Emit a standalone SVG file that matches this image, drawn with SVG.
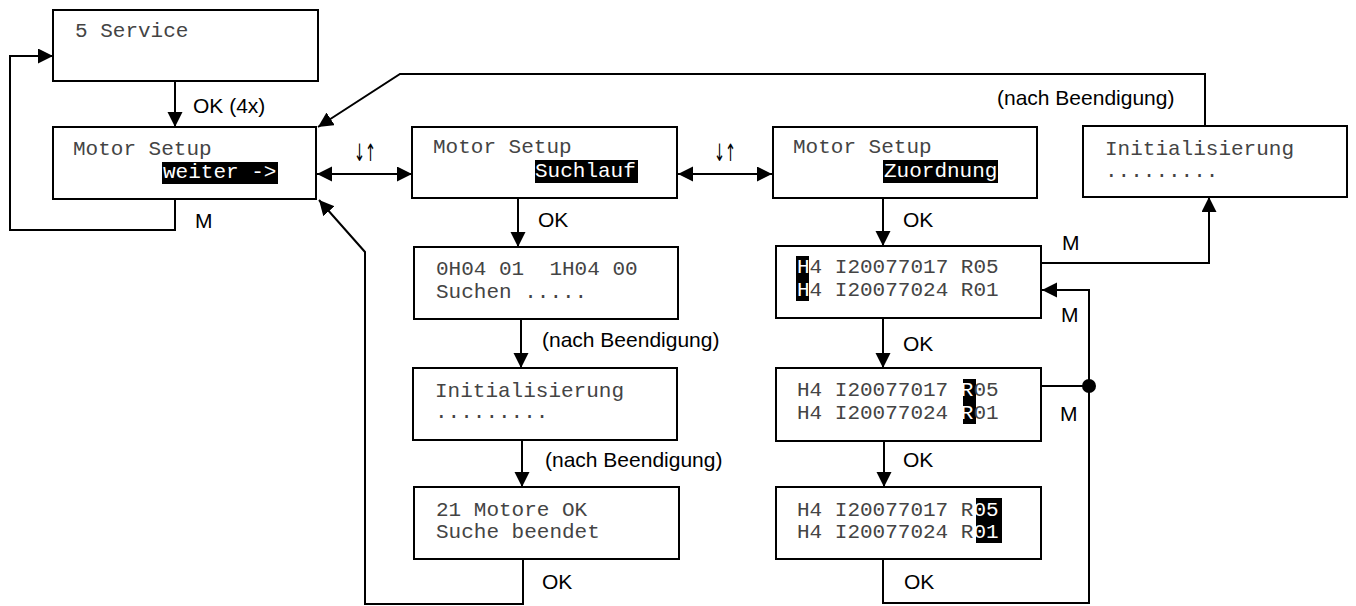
<svg xmlns="http://www.w3.org/2000/svg" width="1356" height="606" viewBox="0 0 1356 606">
  <style>
    .box { fill: #fff; stroke: #000; stroke-width: 2; }
    .lcd { font-family: "Liberation Mono", "Courier New", monospace; font-size: 21px; fill: #444; }
    .inv { fill: #fff; }
    .hl { fill: #000; }
    .lbl { font-family: "Liberation Sans", Arial, sans-serif; font-size: 21px; fill: #000; }
    .sym { font-family: "DejaVu Sans", sans-serif; font-size: 24px; fill: #000; }
    .wire { fill: none; stroke: #000; stroke-width: 2; }
  </style>
  <defs>
    <marker id="head" markerUnits="userSpaceOnUse" markerWidth="16" markerHeight="16" refX="15" refY="7.5" orient="auto-start-reverse">
      <path d="M0,0 L15,7.5 L0,15 z" fill="#000"/>
    </marker>
  </defs>
  <rect width="1356" height="606" fill="#fff"/>

  <!-- connectors -->
  <g id="connectors">
    <line class="wire" x1="175" y1="81" x2="175" y2="127" marker-end="url(#head)"/>
    <polyline class="wire" points="175,199 175,230 10,230 10,56 53,56" marker-end="url(#head)"/>
    <polyline class="wire" points="1205,126 1205,74 400,74 318,127" marker-end="url(#head)"/>
    <line class="wire" x1="317" y1="174" x2="412" y2="174" marker-start="url(#head)" marker-end="url(#head)"/>
    <line class="wire" x1="678" y1="174" x2="772" y2="174" marker-start="url(#head)" marker-end="url(#head)"/>
    <line class="wire" x1="518" y1="198" x2="518" y2="247" marker-end="url(#head)"/>
    <line class="wire" x1="521" y1="319" x2="521" y2="368" marker-end="url(#head)"/>
    <line class="wire" x1="522" y1="440" x2="522" y2="487" marker-end="url(#head)"/>
    <polyline class="wire" points="523,559 523,604 365,604 365,252 319,200" marker-end="url(#head)"/>
    <line class="wire" x1="883" y1="198" x2="883" y2="246" marker-end="url(#head)"/>
    <polyline class="wire" points="1041,263 1209,263 1209,197" marker-end="url(#head)"/>
    <line class="wire" x1="883" y1="318" x2="883" y2="368" marker-end="url(#head)"/>
    <line class="wire" x1="884" y1="441" x2="884" y2="487" marker-end="url(#head)"/>
    <polyline class="wire" points="883,559 883,603 1089,603 1089,290 1042,290" marker-end="url(#head)"/>
    <line class="wire" x1="1041" y1="386" x2="1089" y2="386"/>
    <circle cx="1089" cy="386" r="7" fill="#000"/>
  </g>

  <!-- connector labels -->
  <g id="labels">
    <text class="lbl" x="193" y="113">OK (4x)</text>
    <text class="lbl" x="195" y="228">M</text>
    <text class="lbl" x="997" y="105">(nach Beendigung)</text>
    <text class="sym" x="354" y="161" textLength="22" lengthAdjust="spacingAndGlyphs">↓↑</text>
    <text class="sym" x="714" y="161" textLength="22" lengthAdjust="spacingAndGlyphs">↓↑</text>
    <text class="lbl" x="538" y="227">OK</text>
    <text class="lbl" x="542" y="347">(nach Beendigung)</text>
    <text class="lbl" x="545" y="467">(nach Beendigung)</text>
    <text class="lbl" x="542" y="589">OK</text>
    <text class="lbl" x="903" y="227">OK</text>
    <text class="lbl" x="1062" y="250">M</text>
    <text class="lbl" x="1061" y="322">M</text>
    <text class="lbl" x="903" y="351">OK</text>
    <text class="lbl" x="1060" y="421">M</text>
    <text class="lbl" x="903" y="467">OK</text>
    <text class="lbl" x="904" y="589">OK</text>
  </g>

  <g id="service">
    <rect class="box" x="53" y="10" width="265" height="71"/>
    <text class="lcd" x="75" y="37">5 Service</text>
  </g>

  <g id="setup-weiter">
    <rect class="box" x="53" y="127" width="263" height="72"/>
    <text class="lcd" x="73" y="155">Motor Setup</text>
    <rect class="hl" x="162" y="162" width="116" height="22"/>
    <text class="lcd inv" x="163" y="178">weiter -&gt;</text>
  </g>

  <g id="setup-suchlauf">
    <rect class="box" x="412" y="127" width="265" height="71"/>
    <text class="lcd" x="433" y="153">Motor Setup</text>
    <rect class="hl" x="535" y="160" width="103" height="23"/>
    <text class="lcd inv" x="535" y="177">Suchlauf</text>
  </g>

  <g id="setup-zuordnung">
    <rect class="box" x="773" y="127" width="264" height="71"/>
    <text class="lcd" x="793" y="153">Motor Setup</text>
    <rect class="hl" x="883" y="160" width="115" height="23"/>
    <text class="lcd inv" x="884" y="177">Zuordnung</text>
  </g>

  <g id="init-top">
    <rect class="box" x="1083" y="126" width="264" height="71"/>
    <text class="lcd" x="1105" y="155">Initialisierung</text>
    <text class="lcd" x="1105" y="177">.........</text>
  </g>

  <g id="suchen">
    <rect class="box" x="414" y="247" width="264" height="72"/>
    <text class="lcd" x="436" y="275" xml:space="preserve">0H04 01  1H04 00</text>
    <text class="lcd" x="436" y="298">Suchen .....</text>
  </g>

  <g id="init-mid">
    <rect class="box" x="413" y="368" width="264" height="72"/>
    <text class="lcd" x="435" y="397">Initialisierung</text>
    <text class="lcd" x="435" y="418">.........</text>
  </g>

  <g id="beendet">
    <rect class="box" x="414" y="487" width="265" height="72"/>
    <text class="lcd" x="436" y="516">21 Motore OK</text>
    <text class="lcd" x="436" y="538">Suche beendet</text>
  </g>

  <g id="assign-h">
    <rect class="box" x="776" y="246" width="265" height="72"/>
    <rect class="hl" x="796" y="256" width="13" height="45"/>
    <text class="lcd" x="797" y="273"><tspan class="inv">H</tspan>4 I20077017 R05</text>
    <text class="lcd" x="797" y="296"><tspan class="inv">H</tspan>4 I20077024 R01</text>
  </g>

  <g id="assign-r">
    <rect class="box" x="776" y="368" width="265" height="73"/>
    <rect class="hl" x="963" y="379" width="13" height="45"/>
    <text class="lcd" x="797" y="396">H4 I20077017 <tspan class="inv">R</tspan>05</text>
    <text class="lcd" x="797" y="419">H4 I20077024 <tspan class="inv">R</tspan>01</text>
  </g>

  <g id="assign-val">
    <rect class="box" x="776" y="487" width="265" height="72"/>
    <rect class="hl" x="976" y="498" width="26" height="45"/>
    <text class="lcd" x="797" y="516">H4 I20077017 R<tspan class="inv">05</tspan></text>
    <text class="lcd" x="797" y="538">H4 I20077024 R<tspan class="inv">01</tspan></text>
  </g>
</svg>
